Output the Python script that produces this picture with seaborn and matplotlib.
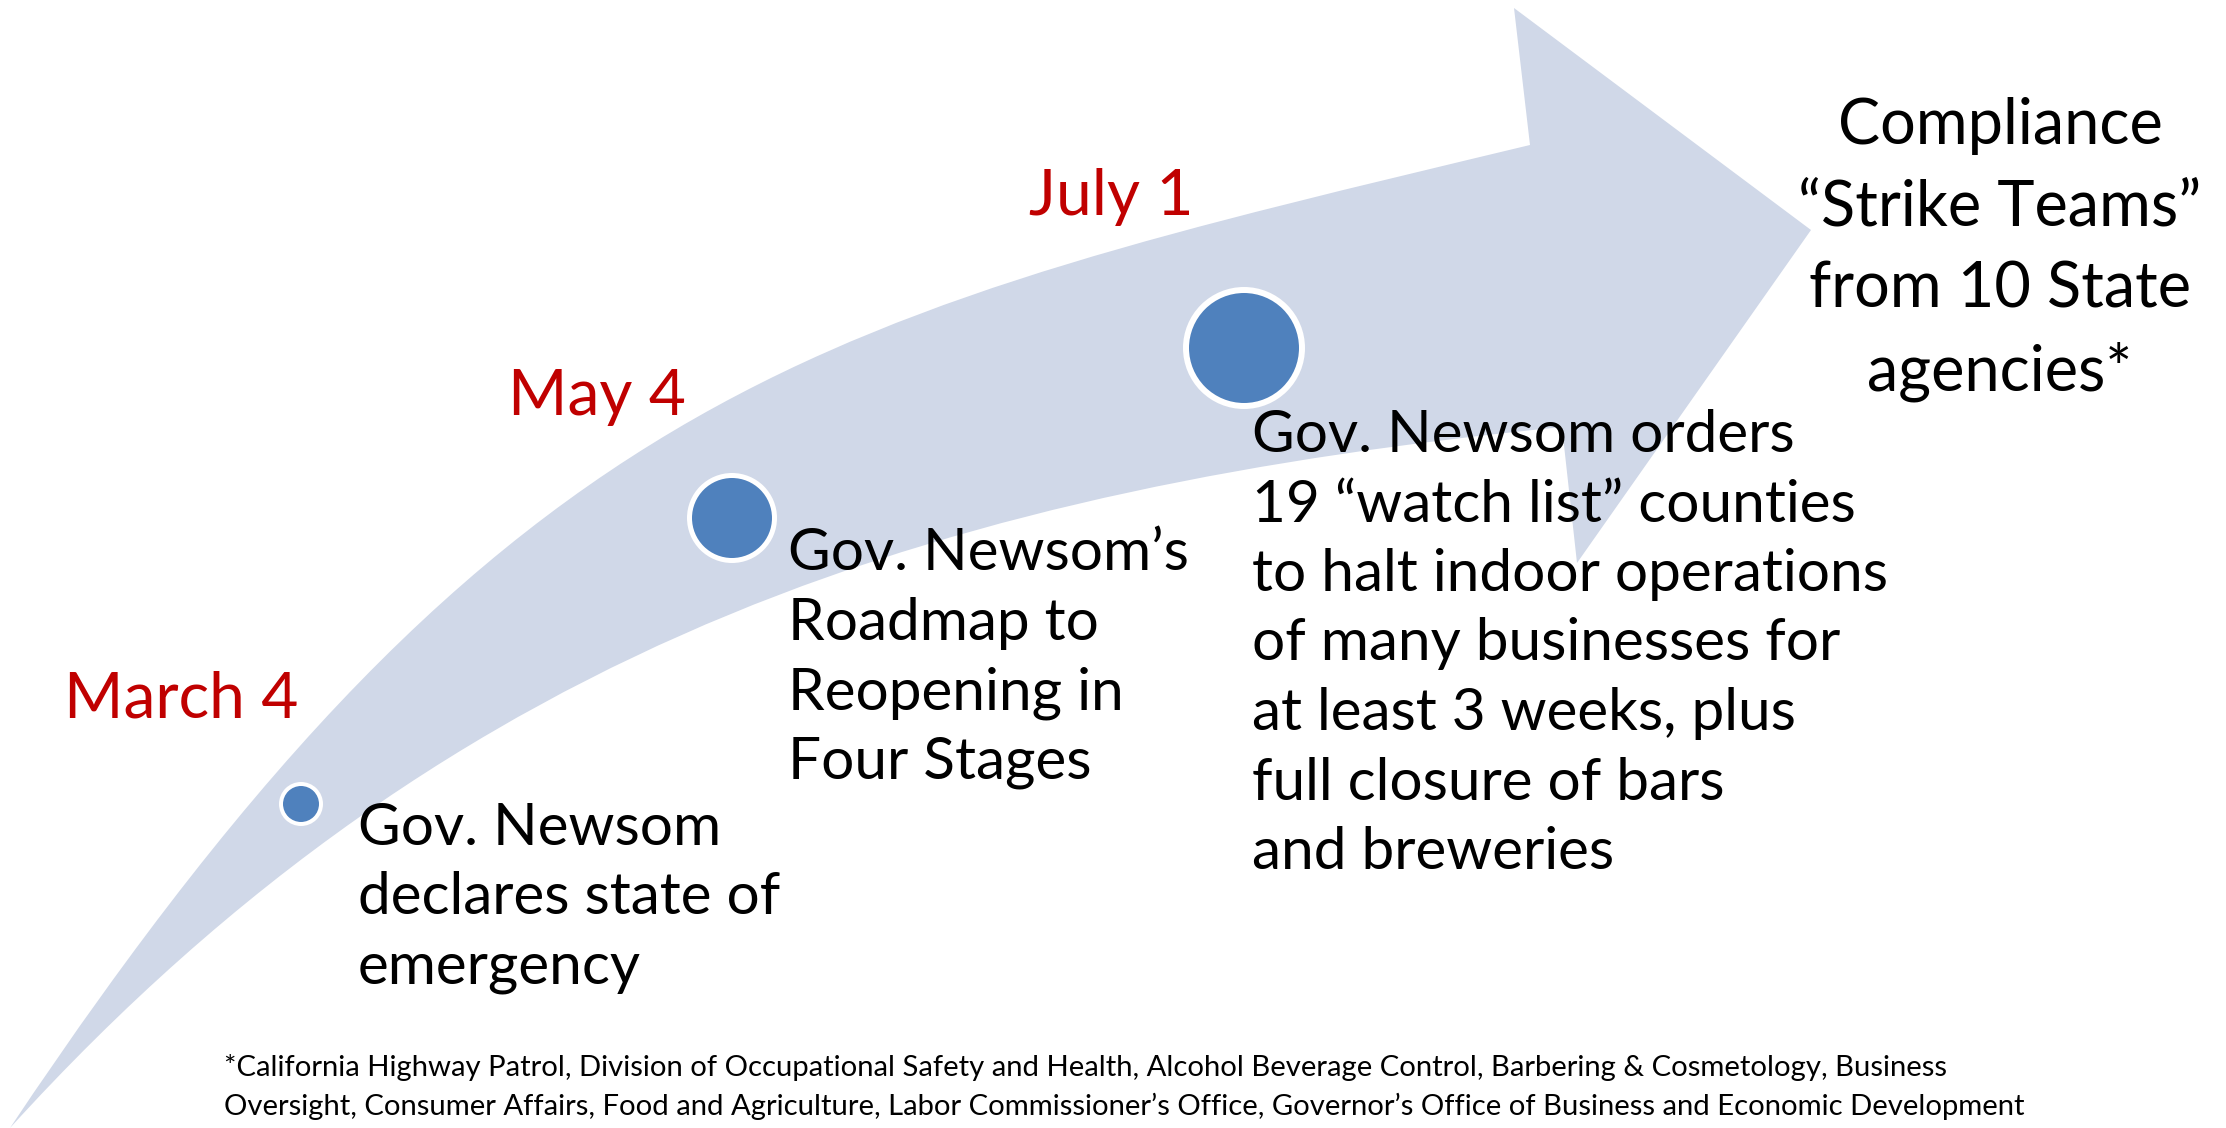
#!/usr/bin/env python3
# plot.py
# COVID order timeline on a curved arrow, redrawn with seaborn/matplotlib.

import numpy as np
import pandas as pd
import matplotlib.pyplot as plt
from matplotlib.path import Path
from matplotlib.patches import PathPatch
import seaborn as sns

# -----------------------------
# Data
# -----------------------------
dates = ["March 4", "May 4", "July 1"]
events = [
    ["Gov. Newsom", "declares state of", "emergency"],
    ["Gov. Newsom’s", "Roadmap to", "Reopening in", "Four Stages"],
    ["Gov. Newsom orders", "19 “watch list” counties", "to halt indoor operations",
     "of many businesses for", "at least 3 weeks, plus", "full closure of bars",
     "and breweries"],
]
outcome = ["Compliance", "“Strike Teams”", "from 10 State", "agencies*"]
footnote = [
    "*California Highway Patrol, Division of Occupational Safety and Health, Alcohol Beverage Control, "
    "Barbering & Cosmetology, Business",
    "Oversight, Consumer Affairs, Food and Agriculture, Labor Commissioner’s Office, "
    "Governor’s Office of Business and Economic Development",
]

# -----------------------------
# Layout (canvas pixels, y grows downward)
# -----------------------------
W, H = 2226, 1128
DPI = 100
PT = 72 / DPI          # pixels -> points

dot_x = [301, 732, 1244]
dot_y = [804, 518, 348]
dot_px = [40, 85, 116]   # marker diameter (to middle of the white ring)
ring_px = [4, 5, 6]

date_x = [64, 508, 1029]
date_base = [718, 415, 215]
text_x = [358, 788, 1252]
text_base = [845, 570, 452]
LINE = 69.5

ARROW = "#D0D8E8"
BLUE = "#4F81BD"
RED = "#C00000"

sns.set_theme(style="white")
plt.rcParams["font.family"] = ["Lato", "DejaVu Sans"]

fig = plt.figure(figsize=(W / DPI, H / DPI), dpi=DPI)
ax = fig.add_axes([0, 0, 1, 1])

# curved arrow: upper edge, head, lower edge back to the tail
verts = [
    (10, 1128),
    (510, 378), (830, 313), (1530, 145),      # upper edge
    (1514, 8), (1811, 230), (1577, 563), (1562, 427),   # head
    (962, 487), (460, 633), (10, 1128),       # lower edge
    (10, 1128),
]
codes = [Path.MOVETO,
         Path.CURVE4, Path.CURVE4, Path.CURVE4,
         Path.LINETO, Path.LINETO, Path.LINETO, Path.LINETO,
         Path.CURVE4, Path.CURVE4, Path.CURVE4,
         Path.CLOSEPOLY]
ax.add_patch(PathPatch(Path(verts, codes), facecolor=ARROW, edgecolor="none", zorder=1))

# event dots
df = pd.DataFrame({"date": dates, "x": dot_x, "y": dot_y})
sns.scatterplot(data=df, x="x", y="y", ax=ax, legend=False, zorder=3,
                s=[(d * PT) ** 2 for d in dot_px], color=BLUE,
                edgecolor="white", linewidth=[r * PT for r in ring_px])
ax.set_xlim(0, W)
ax.set_ylim(H, 0)
ax.axis("off")

# dates and descriptions
for i, d in enumerate(dates):
    ax.text(date_x[i], date_base[i], d, color=RED, fontsize=64 * PT,
            ha="left", va="baseline", zorder=4)
    for j, line in enumerate(events[i]):
        ax.text(text_x[i], text_base[i] + j * LINE, line, color="black",
                fontsize=58.5 * PT, ha="left", va="baseline", zorder=4)

# outcome at the arrow tip
for j, line in enumerate(outcome):
    ax.text(2000, 144 + j * 82, line, color="black", fontsize=63 * PT,
            ha="center", va="baseline", zorder=4)

# footnote
for j, line in enumerate(footnote):
    ax.text(224, 1076 + j * 39, line, color="black", fontsize=29.2 * PT,
            ha="left", va="baseline", zorder=4)

fig.savefig("out.png", dpi=DPI, facecolor="white")
